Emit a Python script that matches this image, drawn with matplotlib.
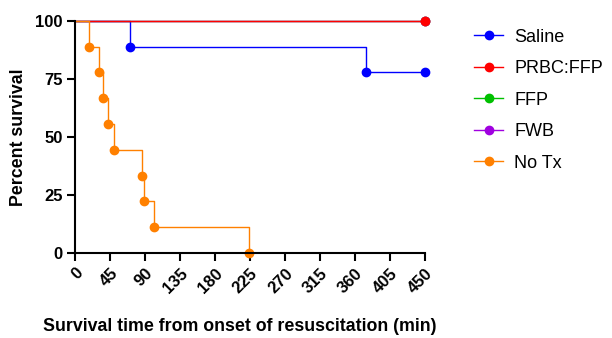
import matplotlib
matplotlib.use("Agg")
import matplotlib.pyplot as plt

plt.rcParams['font.family'] = ['Liberation Sans', 'DejaVu Sans']

# Kaplan-Meier steps: time (min) and percent survival after each step
saline_t = [0, 71, 374, 450]
saline_s = [100, 88.9, 77.8, 77.8]

prbc_t = [0, 450]
prbc_s = [100, 100]

ffp_t = [0, 450]
ffp_s = [100, 100]

fwb_t = [0, 450]
fwb_s = [100, 100]

notx_t = [0, 18, 31, 36, 42, 50, 86, 89, 102, 224]
notx_s = [100, 88.9, 77.8, 66.7, 55.6, 44.4, 33.3, 22.2, 11.1, 0]

x_ticks = [0, 45, 90, 135, 180, 225, 270, 315, 360, 405, 450]
y_ticks = [0, 25, 50, 75, 100]

series = [
    ('Saline', saline_t, saline_s, '#0000ff'),
    ('FFP', ffp_t, ffp_s, '#00c000'),
    ('FWB', fwb_t, fwb_s, '#a000e0'),
    ('PRBC:FFP', prbc_t, prbc_s, '#ff0000'),
    ('No Tx', notx_t, notx_s, '#ff8000'),
]

fig = plt.figure(figsize=(6.12, 3.38), dpi=100)
ax = fig.add_axes([0.1225, 0.2515, 0.5720, 0.6864])

handles = {}
for name, t, s, c in series:
    ax.plot(t, s, drawstyle='steps-post', color=c, lw=1, clip_on=False)
    ax.plot(t[1:], s[1:], 'o', color=c, ms=6, clip_on=False)
    # legend handle with line + marker
    handles[name] = plt.Line2D([], [], color=c, lw=1, marker='o', ms=6)

ax.set_xlim(0, 450)
ax.set_ylim(0, 100)
ax.set_xticks(x_ticks)
ax.set_yticks(y_ticks)
ax.set_xticklabels([str(v) for v in x_ticks], rotation=45, ha='right',
                   rotation_mode='anchor', fontweight='bold', fontsize=12)
ax.set_yticklabels([str(v) for v in y_ticks], fontweight='bold', fontsize=12)
ax.tick_params(direction='out', length=6, width=1.5, pad=3)
for sp in ['top', 'right']:
    ax.spines[sp].set_visible(False)
for sp in ['left', 'bottom']:
    ax.spines[sp].set_linewidth(1.5)

ax.set_xlabel('Survival time from onset of resuscitation (min)',
              fontweight='bold', fontsize=12.8)
ax.xaxis.set_label_coords(0.471, -0.28)
ax.set_ylabel('Percent survival', fontweight='bold', fontsize=12.8, labelpad=6)

order = ['Saline', 'PRBC:FFP', 'FFP', 'FWB', 'No Tx']
fig.legend([handles[n] for n in order], order, loc='upper left',
           bbox_to_anchor=(0.775, 0.915), frameon=False, fontsize=13,
           handlelength=1.6, labelspacing=0.8, handletextpad=0.6,
           borderaxespad=0, borderpad=0)

fig.savefig('out.png', dpi=100)
